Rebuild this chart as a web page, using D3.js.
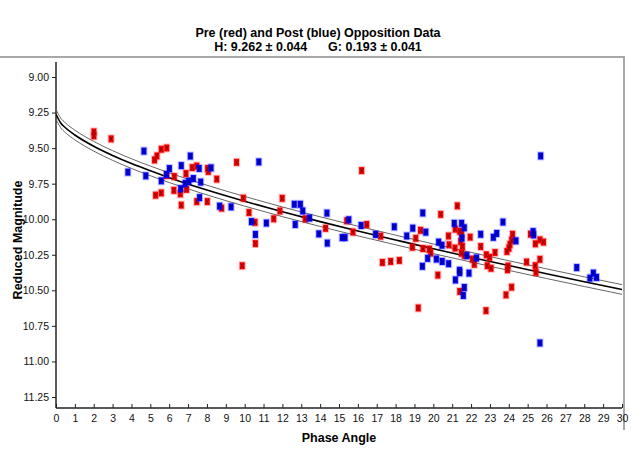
<!DOCTYPE html>
<html><head><meta charset="utf-8">
<script src="https://cdn.jsdelivr.net/npm/d3@7"></script>
<style>body{margin:0;background:#fff}text{font-family:"Liberation Sans",Arial,sans-serif}</style>
</head><body><svg id="c" width="644" height="455"></svg>
<script>
const titleLines = ["Pre (red) and Post (blue) Opposition Data", "H: 9.262 \u00b1 0.044      G: 0.193 \u00b1 0.041"];
const xLabel = "Phase Angle";
const yLabel = "Reduced Magnitude";
const xTicks = d3.range(0, 31);
const yTicks = [9.00, 9.25, 9.50, 9.75, 10.00, 10.25, 10.50, 10.75, 11.00, 11.25];

// fitted H-G curve
const curvePhase = [0,0.25,0.5,1,2,3,4,5,6,8,10,12,14,16,18,20,22,24,26,28,30];
const curveMag = [9.262,9.323,9.357,9.408,9.487,9.552,9.609,9.660,9.708,9.795,9.874,9.948,10.017,10.083,10.146,10.208,10.267,10.326,10.383,10.439,10.494];
const bandHalf = 0.034;

// pre-opposition (red)
const preX = [2.01,2.01,2.92,5.22,5.35,5.58,5.87,5.28,5.58,6.25,6.27,6.64,6.59,6.89,6.92,7.22,7.46,7.46,8.04,8.07,8.02,8.52,8.78,9.57,9.93,10.23,5.86,9.87,11.99,11.87,11.54,13.21,10.55,10.57,15.41,14.29,15.74,16.20,16.47,17.21,17.30,17.74,18.20,19.07,18.89,19.32,19.45,19.79,19.86,19.20,20.39,21.27,21.16,21.40,21.50,20.80,21.95,21.45,20.83,21.15,21.54,21.49,21.65,22.51,23.27,22.81,22.98,22.07,22.17,22.86,23.06,20.24,21.40,22.79,24.20,24.15,24.06,24.01,23.90,25.15,25.41,25.65,25.84,24.94,25.65,25.40,25.44,23.96,23.93,24.15,23.85];
const preY = [9.386,9.414,9.435,9.583,9.555,9.508,9.499,9.831,9.815,9.797,9.700,9.901,9.822,9.679,9.790,9.637,9.626,9.876,9.643,9.664,9.876,9.718,9.922,9.600,9.852,9.953,9.692,10.327,9.853,9.942,9.997,9.997,10.022,10.171,10.011,10.064,10.090,9.658,10.037,10.119,10.304,10.297,10.290,10.134,10.197,10.078,10.206,10.210,10.238,10.624,9.966,9.906,10.070,10.085,10.103,10.118,10.126,10.157,10.180,10.203,10.192,10.239,10.254,10.192,10.234,10.250,10.268,10.280,10.317,10.327,10.345,10.393,10.508,10.643,10.106,10.148,10.178,10.204,10.227,10.105,10.173,10.145,10.161,10.301,10.282,10.327,10.374,10.329,10.355,10.478,10.532];

// post-opposition (blue)
const postX = [3.81,4.66,4.76,5.58,5.86,6.01,6.64,6.61,6.85,7.04,7.12,7.28,7.59,7.61,7.67,8.22,8.67,9.28,10.75,12.63,12.95,13.08,14.36,13.44,10.36,11.15,12.68,15.52,10.57,13.93,15.17,15.32,14.38,16.17,17.93,16.94,18.59,18.91,19.60,19.44,19.70,19.42,20.16,20.47,20.81,20.28,20.46,21.11,21.50,21.64,21.52,22.51,23.18,23.36,23.69,24.38,25.29,25.32,21.78,22.29,21.39,21.40,21.89,21.17,21.64,21.59,25.65,25.69,27.60,28.48,28.30,28.65];
const postY = [9.669,9.521,9.695,9.730,9.685,9.644,9.623,9.785,9.748,9.732,9.556,9.714,9.643,9.848,9.739,9.639,9.908,9.913,9.597,9.895,9.895,9.942,9.957,9.992,10.017,10.027,10.037,10.004,10.107,10.103,10.129,10.129,10.168,10.044,10.053,10.107,10.118,10.063,10.091,9.956,10.275,10.331,10.280,10.297,10.313,10.161,10.183,10.029,10.029,10.060,10.133,10.106,10.127,10.100,10.020,10.152,10.087,10.110,10.256,10.273,10.359,10.376,10.379,10.427,10.480,10.536,10.870,9.555,10.340,10.379,10.414,10.409];

const svg = d3.select("#c");
const x = d3.scaleLinear().domain([0, 30]).range([56, 622]);
const y = d3.scaleLinear().domain([9, 11.25]).range([77, 397]);
const yTop = 8.895, yBot = 11.327;

// window frame lines
svg.append("line").attr("x1",0).attr("x2",625).attr("y1",57).attr("y2",57).attr("stroke","#a8a8a8").attr("stroke-width",2);
svg.append("line").attr("x1",624).attr("x2",624).attr("y1",57).attr("y2",430).attr("stroke","#a8a8a8").attr("stroke-width",2);

// titles
svg.append("text").attr("x",318).attr("y",37).attr("text-anchor","middle").attr("font-size",12.5).attr("font-weight","bold").text(titleLines[0]);
svg.append("text").attr("x",318).attr("y",51).attr("text-anchor","middle").attr("font-size",12.5).attr("font-weight","bold").attr("xml:space","preserve").style("white-space","pre").text(titleLines[1]);

// axes
const gx = svg.append("g").attr("transform",`translate(0,${y(yBot)})`)
  .call(d3.axisBottom(x).tickValues(xTicks).tickSize(-4).tickPadding(7).tickFormat(d3.format("d")));
const gy = svg.append("g").attr("transform",`translate(${x(0)},0)`)
  .call(d3.axisLeft(y).tickValues(yTicks).tickSize(4).tickPadding(3).tickFormat(d3.format(".2f")));
[gx, gy].forEach(g => {
  g.select(".domain").remove();
  g.selectAll(".tick line").attr("stroke","#222");
  g.selectAll(".tick text").attr("font-size",10.5).attr("fill","#111").style("font-family","'Liberation Sans',Arial,sans-serif");
});
svg.append("line").attr("x1",x(0)).attr("x2",x(30)).attr("y1",y(yBot)).attr("y2",y(yBot)).attr("stroke","#222").attr("stroke-width",1.5);
svg.append("line").attr("x1",x(0)).attr("x2",x(0)).attr("y1",y(yTop)).attr("y2",y(yBot)).attr("stroke","#222").attr("stroke-width",1.5);

svg.append("text").attr("x",339).attr("y",442).attr("text-anchor","middle").attr("font-size",12.5).attr("font-weight","bold").text(xLabel);
svg.append("text").attr("transform","translate(22,240) rotate(-90)").attr("text-anchor","middle").attr("font-size",12.5).attr("font-weight","bold").text(yLabel);

// fit curve + band
svg.append("clipPath").attr("id","pc").append("rect").attr("x",x(0)).attr("y",y(yTop)).attr("width",x(30)-x(0)).attr("height",y(yBot)-y(yTop));
const idx = d3.range(curvePhase.length);
const lineFn = off => d3.line().curve(d3.curveMonotoneX).x(i => x(curvePhase[i])).y(i => y(curveMag[i] + off));
const cg = svg.append("g").attr("clip-path","url(#pc)");
cg.append("path").attr("d", lineFn(-bandHalf)(idx)).attr("fill","none").attr("stroke","#555").attr("stroke-width",0.9);
cg.append("path").attr("d", lineFn(bandHalf)(idx)).attr("fill","none").attr("stroke","#555").attr("stroke-width",0.9);
cg.append("path").attr("d", lineFn(0)(idx)).attr("fill","none").attr("stroke","#000").attr("stroke-width",1.6);

// markers
function drawMarkers(xs, ys, fill, dark){
  const g = svg.append("g");
  const pts = d3.range(xs.length).map(i => [x(xs[i]), y(ys[i])]);
  g.selectAll("rect.h").data(pts).join("rect").attr("x",d=>d[0]-3.5).attr("y",d=>d[1]-4.5).attr("width",7).attr("height",9).attr("fill",fill).attr("opacity",0.25);
  g.selectAll("rect.m").data(pts).join("rect").attr("x",d=>d[0]-2.5).attr("y",d=>d[1]-3.5).attr("width",5).attr("height",7).attr("fill",fill);
  g.selectAll("path").data(pts).join("path")
    .attr("d",d=>`M${d[0]-1.5},${d[1]-2.5}L${d[0]+1.5},${d[1]+2.5}M${d[0]+1.5},${d[1]-2.5}L${d[0]-1.5},${d[1]+2.5}`)
    .attr("stroke",dark).attr("stroke-width",0.9).attr("fill","none");
}
drawMarkers(preX, preY, "#ff0000", "#7a0000");
drawMarkers(postX, postY, "#0000ff", "#00006e");
</script></body></html>
